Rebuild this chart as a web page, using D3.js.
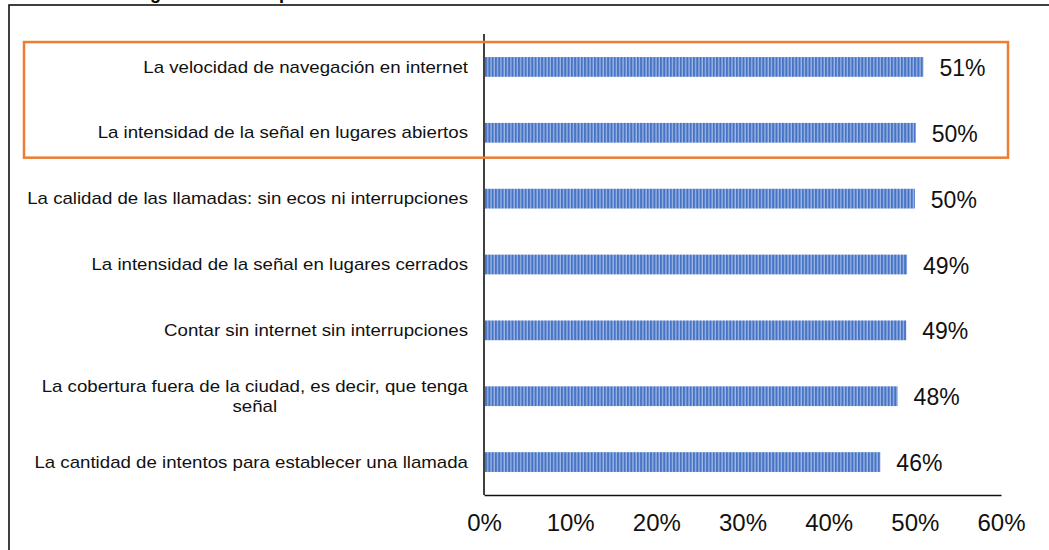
<!DOCTYPE html>
<html>
<head>
<meta charset="utf-8">
<script src="https://cdn.jsdelivr.net/npm/d3@7"></script>
<style>
  body { margin: 0; background: #fff; }
  svg { display: block; font-family: "Liberation Sans", Arial, sans-serif; }
</style>
</head>
<body>
<div id="chart"></div>
<script>
// Attribute ratings, horizontal bars with striped fill.
// The top two rows are boxed in orange in the original slide.

const categories = [
    'La velocidad de navegación en internet',
    'La intensidad de la señal en lugares abiertos',
    'La calidad de las llamadas: sin ecos ni interrupciones',
    'La intensidad de la señal en lugares cerrados',
    'Contar sin internet sin interrupciones',
    'La cobertura fuera de la ciudad, es decir, que tenga señal',
    'La cantidad de intentos para establecer una llamada',
];
// how each category label is broken into lines
const categoryLines = [
    ['La velocidad de navegación en internet'],
    ['La intensidad de la señal en lugares abiertos'],
    ['La calidad de las llamadas: sin ecos ni interrupciones'],
    ['La intensidad de la señal en lugares cerrados'],
    ['Contar sin internet sin interrupciones'],
    ['La cobertura fuera de la ciudad, es decir, que tenga', 'señal'],
    ['La cantidad de intentos para establecer una llamada'],
];
const values = [0.51, 0.501, 0.50, 0.491, 0.49, 0.48, 0.46];
const xTicks = [0, 0.1, 0.2, 0.3, 0.4, 0.5, 0.6];
const highlighted = categories.slice(0, 2);
const title = 'Ranking de la calidad percibida';

const W = 1049, H = 550;
const pct = d3.format('.0%');

const svg = d3.select('#chart').append('svg')
    .attr('width', W).attr('height', H);

// striped bar fill
const defs = svg.append('defs');
const pat = defs.append('pattern')
    .attr('id', 'stripes')
    .attr('patternUnits', 'userSpaceOnUse')
    .attr('width', 3.3).attr('height', 20);
pat.append('rect').attr('width', 3.3).attr('height', 20).attr('fill', '#4673c5');
pat.append('rect').attr('x', 2).attr('width', 1.3).attr('height', 20).attr('fill', '#9fb7e3');

// outer frame, cut off by the screenshot on the right and bottom
svg.append('rect')
    .attr('x', 9).attr('y', 5)
    .attr('width', W + 20).attr('height', H + 20)
    .attr('fill', 'none').attr('stroke', '#111').attr('stroke-width', 1.6);

// title sits above the crop, only the descenders show
svg.append('text')
    .attr('x', 90).attr('y', -1)
    .attr('font-size', 18).attr('font-weight', 'bold')
    .text(title);

const x = d3.scaleLinear().domain([0, 0.6]).range([484, 1001]);
const y = d3.scaleBand().domain(categories).range([34, 495])
    .paddingInner(0.7).paddingOuter(0.35);

// x axis: labels only, plus the baseline
const xAxis = svg.append('g')
    .attr('transform', `translate(0,${y.range()[1]})`)
    .call(d3.axisBottom(x).tickValues(xTicks).tickFormat(pct).tickSize(0).tickSizeOuter(0).tickPadding(19));
xAxis.select('.domain').attr('stroke', '#111').attr('stroke-width', 1.6);
xAxis.selectAll('.tick text')
    .attr('font-family', '"Liberation Sans", Arial, sans-serif')
    .attr('font-size', 24).attr('fill', '#111');

// vertical category axis line
svg.append('line')
    .attr('x1', x(0)).attr('x2', x(0))
    .attr('y1', y.range()[0]).attr('y2', y.range()[1])
    .attr('stroke', '#111').attr('stroke-width', 1.6);

// bars
svg.selectAll('rect.bar')
    .data(categories)
    .join('rect')
    .attr('class', 'bar')
    .attr('x', x(0) + 1)
    .attr('y', (d) => y(d))
    .attr('width', (d, i) => x(values[i]) - x(0) - 1)
    .attr('height', y.bandwidth())
    .attr('fill', 'url(#stripes)');

// value labels
svg.selectAll('text.val')
    .data(categories)
    .join('text')
    .attr('class', 'val')
    .attr('x', (d, i) => x(values[i]) + 16)
    .attr('y', (d) => y(d) + y.bandwidth() / 2 + 9)
    .attr('font-size', 23).attr('fill', '#111')
    .text((d, i) => pct(Math.round(values[i] * 100) / 100));

// category labels: the source text is stretched wide, so scale x
const stretch = 1.167;
const labelRight = x(0) - 16;
const labels = svg.selectAll('g.cat')
    .data(categories)
    .join('g')
    .attr('class', 'cat')
    .attr('transform', (d) => `translate(${labelRight},${y(d) + y.bandwidth() / 2}) scale(${stretch},1)`);

labels.each(function (d, i) {
    const lines = categoryLines[i];
    const g = d3.select(this);
    const lh = 20; // line height in px
    const t = g.append('text').attr('font-size', 16).attr('fill', '#111');
    const spans = lines.map((ln, j) => t.append('tspan')
        .attr('y', (j - (lines.length - 1) / 2) * lh + 5.6)
        .text(ln));
    // right-align the block, centre lines inside it
    const widths = spans.map((s) => s.node().getComputedTextLength());
    const bw = d3.max(widths);
    spans.forEach((s) => s.attr('x', -bw / 2).attr('text-anchor', 'middle'));
});

// orange highlight box around the first two rows
const boxTop = y(highlighted[0]) - 15;
const boxBottom = y(highlighted[highlighted.length - 1]) + y.bandwidth() + 15;
svg.append('rect')
    .attr('x', 24).attr('y', boxTop)
    .attr('width', x(0.6) + 7 - 24).attr('height', boxBottom - boxTop)
    .attr('fill', 'none').attr('stroke', '#ed7d31').attr('stroke-width', 2.5);
</script>
</body>
</html>
